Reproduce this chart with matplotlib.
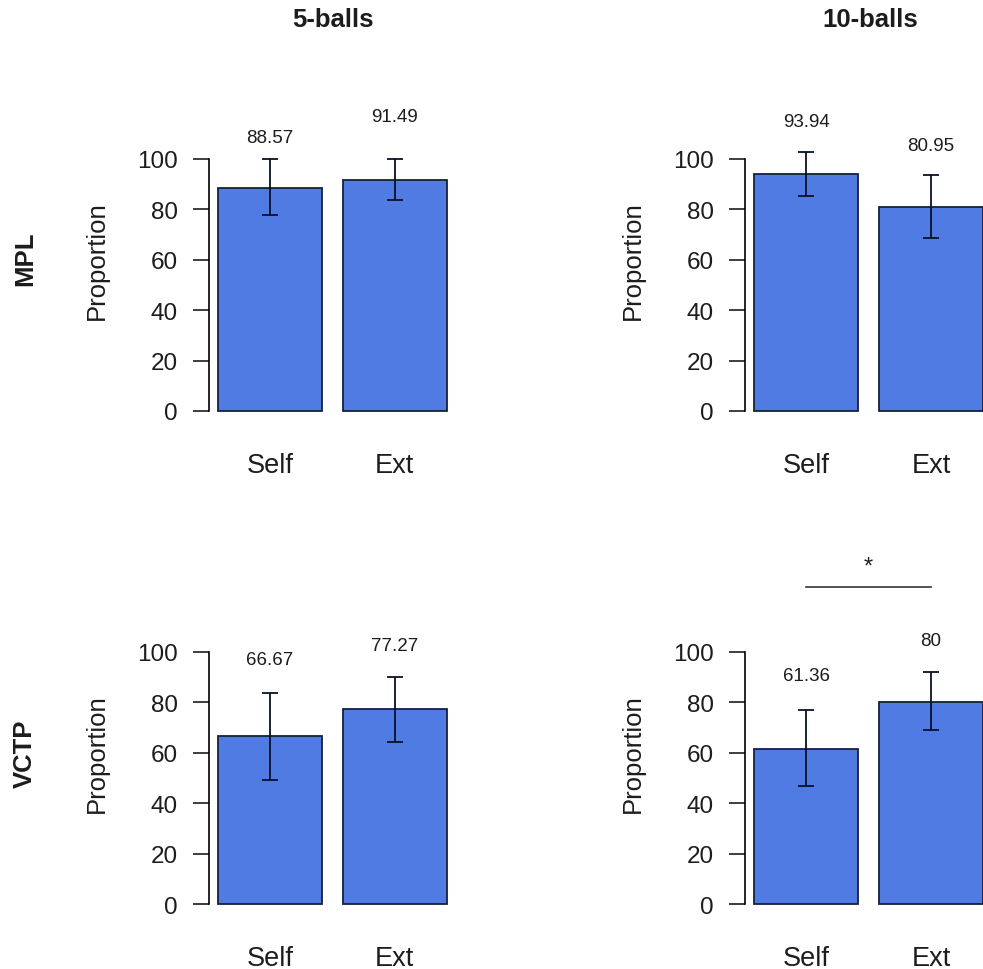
import matplotlib
matplotlib.use('Agg')
import matplotlib.pyplot as plt

plt.rcParams['font.family'] = ['Liberation Sans', 'DejaVu Sans']

# data
conditions = ['Self', 'Ext']
col_titles = ['5-balls', '10-balls']
row_titles = ['MPL', 'VCTP']

mpl_5 = [88.57, 91.49]
mpl_10 = [93.94, 80.95]
vctp_5 = [66.67, 77.27]
vctp_10 = [61.36, 80]

# error bar ends (lower, upper)
mpl_5_lo = [77.7, 83.5]
mpl_5_hi = [99.9, 100.0]
mpl_10_lo = [85.3, 68.7]
mpl_10_hi = [102.6, 93.5]
vctp_5_lo = [49.2, 64.4]
vctp_5_hi = [83.5, 90.1]
vctp_10_lo = [46.9, 68.9]
vctp_10_hi = [76.9, 92.1]

# heights where the value labels sit
mpl_5_lab = [108.3, 116.7]
mpl_10_lab = [114.7, 105.3]
vctp_5_lab = [96.9, 102.6]
vctp_10_lab = [90.7, 104.6]

bar_col = '#4f7be2'
edge_col = '#15203a'
err_col = '#0b1028'
txt_col = '#1c1c1c'

fig = plt.figure(figsize=(9.83, 9.70), dpi=100)

x_pos = [0.7, 1.9]


def draw_panel(rect, vals, lo, hi, lab):
    ax = fig.add_axes(rect)
    ax.bar(x_pos, vals, width=1.0, color=bar_col, edgecolor=edge_col, linewidth=1.3)
    yerr = [[v - l for v, l in zip(vals, lo)], [h - v for v, h in zip(vals, hi)]]
    ax.errorbar(x_pos, vals, yerr=yerr, fmt='none', ecolor=err_col, elinewidth=1.3,
                capsize=5.5, capthick=1.3)
    for x, v, y in zip(x_pos, vals, lab):
        ax.text(x, y, '%g' % v, ha='center', va='center', fontsize=13.5, color=txt_col)
    ax.set_xlim(0.112, 2.488)
    ax.set_ylim(-4.8, 124.8)
    for s in ['top', 'right', 'bottom']:
        ax.spines[s].set_visible(False)
    ax.spines['left'].set_bounds(0, 100)
    ax.spines['left'].set_linewidth(1.2)
    ax.set_yticks([0, 20, 40, 60, 80, 100])
    ax.tick_params(axis='y', length=11.5, width=1.2, labelsize=17.5, pad=11, colors=txt_col)
    ax.set_xticks(x_pos)
    ax.set_xticklabels(conditions)
    ax.tick_params(axis='x', length=0, labelsize=19.5, pad=20.5, colors=txt_col)
    ax.text(-0.455, 0.5, 'Proportion', transform=ax.transAxes, rotation=90,
            ha='center', va='center', fontsize=18.5, color=txt_col)
    ax.patch.set_alpha(0)
    return ax


h = 0.337
ax1 = draw_panel([0.2124, 0.5628, 0.2513, h], mpl_5, mpl_5_lo, mpl_5_hi, mpl_5_lab)
ax2 = draw_panel([0.7579, 0.5628, 0.2513, h], mpl_10, mpl_10_lo, mpl_10_hi, mpl_10_lab)
ax3 = draw_panel([0.2124, 0.0545, 0.2513, h], vctp_5, vctp_5_lo, vctp_5_hi, vctp_5_lab)
ax4 = draw_panel([0.7579, 0.0545, 0.2513, h], vctp_10, vctp_10_lo, vctp_10_hi, vctp_10_lab)

# significance marker on the 10-balls VCTP panel
ax4.plot(x_pos, [125.8, 125.8], color='#333333', linewidth=1.2, clip_on=False)
ax4.text(sum(x_pos) / 2, 134.0, '*', ha='center', va='center', fontsize=17,
         color=txt_col, clip_on=False)

fig.text(333 / 983, 1 - 20 / 970, col_titles[0], ha='center', va='center',
         fontsize=18.5, fontweight='bold', color=txt_col)
fig.text(870 / 983, 1 - 20 / 970, col_titles[1], ha='center', va='center',
         fontsize=18.5, fontweight='bold', color=txt_col)
fig.text(25 / 983, 1 - 259 / 970, row_titles[0], rotation=90, ha='center', va='center',
         fontsize=18.5, fontweight='bold', color=txt_col)
fig.text(25 / 983, 1 - 754 / 970, row_titles[1], rotation=90, ha='center', va='center',
         fontsize=18.5, fontweight='bold', color=txt_col)

fig.savefig('out.png', dpi=100, facecolor='white')
